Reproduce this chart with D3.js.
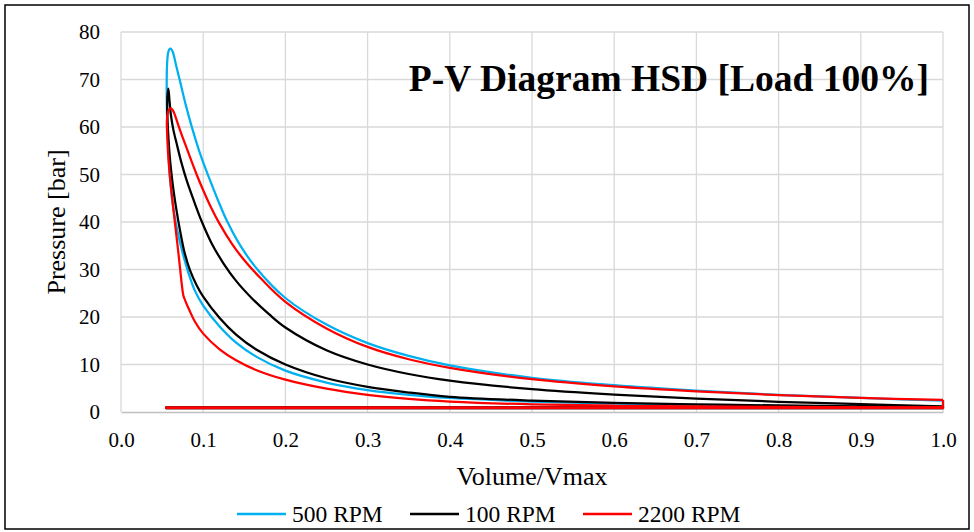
<!DOCTYPE html>
<html>
<head>
<meta charset="utf-8">
<script src="https://cdn.jsdelivr.net/npm/d3@7"></script>
<style>
  body { margin: 0; background: #fff; }
  svg text { font-family: "Liberation Serif", "Times New Roman", serif; fill: #000; }
</style>
</head>
<body>
<div id="chart"></div>
<script>
// Axis ticks
const xTicks = [0.0, 0.1, 0.2, 0.3, 0.4, 0.5, 0.6, 0.7, 0.8, 0.9, 1.0];
const yTicks = [0, 10, 20, 30, 40, 50, 60, 70, 80];

// Series: [Volume/Vmax, Pressure bar]; compression runs BDC -> peak, expansion peak -> BDC
const comp500 = [[1.0,0.95],[0.9,1.1],[0.8,1.25],[0.7,1.45],[0.6,1.75],[0.5,2.2],[0.4,2.95],[0.35,3.6],[0.3,4.6],[0.25,6.2],[0.2,8.7],[0.165,11.6],[0.14,14.6],[0.12,18.0],[0.1,22.4],[0.09,25.5],[0.082,29.3],[0.075,33.5],[0.069,37.8],[0.065,41.5],[0.062,45],[0.06,48.5],[0.0585,52],[0.0573,56],[0.0563,60.5],[0.0557,65],[0.0556,69],[0.0559,72.5],[0.057,75.3],[0.0585,76.3],[0.0605,76.5]];
const exp500 = [[0.0605,76.5],[0.063,75.8],[0.067,73],[0.072,69.5],[0.079,64.5],[0.087,59.5],[0.096,54.5],[0.106,49.8],[0.117,45],[0.129,40.2],[0.146,34.8],[0.166,30],[0.2,24.0],[0.25,18.4],[0.3,14.5],[0.35,11.8],[0.4,9.8],[0.5,7.2],[0.6,5.65],[0.7,4.5],[0.8,3.6],[0.9,2.95],[1.0,2.4]];

const comp100 = [[1.0,1.05],[0.9,1.2],[0.8,1.38],[0.7,1.6],[0.6,1.92],[0.5,2.4],[0.4,3.2],[0.35,4.1],[0.3,5.3],[0.25,7.1],[0.2,10.0],[0.165,13.1],[0.14,16.3],[0.12,19.8],[0.1,24.3],[0.092,26.7],[0.084,29.8],[0.077,33.8],[0.0715,38.5],[0.0675,42.5],[0.064,46.5],[0.0612,50.5],[0.0592,54],[0.0578,57.5],[0.0567,61],[0.0562,64],[0.0565,66.5],[0.0576,68.1]];
const exp100 = [[0.0576,68.1],[0.0588,66],[0.0605,62.8],[0.0636,59.5],[0.068,56.3],[0.0735,52.5],[0.08,48.7],[0.089,44.3],[0.098,40.2],[0.11,35.6],[0.125,31.2],[0.14,27.6],[0.16,23.8],[0.18,20.6],[0.2,17.8],[0.25,13.0],[0.3,10.0],[0.35,8.0],[0.4,6.6],[0.5,4.8],[0.6,3.65],[0.7,2.8],[0.8,2.15],[0.9,1.65],[1.0,1.2]];

const comp2200 = [[1.0,0.95],[0.9,1.0],[0.8,1.07],[0.7,1.17],[0.6,1.32],[0.5,1.6],[0.4,2.2],[0.35,2.75],[0.3,3.6],[0.25,4.9],[0.2,6.8],[0.165,8.8],[0.14,10.9],[0.12,13.2],[0.1,16.5],[0.09,19.0],[0.0835,21.3],[0.0785,23.3],[0.0758,24.6],[0.074,26.8],[0.072,30],[0.0695,34],[0.0665,38.5],[0.0635,43],[0.061,47],[0.059,50.5],[0.0573,54.5],[0.0562,58.5],[0.0558,61.2],[0.057,63],[0.059,63.8],[0.0612,63.9]];
const exp2200 = [[0.0612,63.9],[0.064,63.2],[0.067,61.8],[0.0697,60.4],[0.075,57.8],[0.0807,55.2],[0.086,52.7],[0.092,50],[0.1,46.7],[0.11,42.9],[0.12,39.6],[0.135,35.4],[0.15,31.95],[0.17,28.15],[0.2,23.2],[0.25,17.6],[0.3,13.7],[0.35,11.1],[0.4,9.3],[0.5,6.9],[0.6,5.4],[0.7,4.35],[0.8,3.55],[0.9,2.97],[1.0,2.54]];

// Gas exchange: exhaust and intake pressure, swept down to the clearance volume
const exhaustP = [0.95, 0.95, 0.95];
const intakeP = [0.8, 0.8, 0.8];
const minVolume = [0.055, 0.055, 0.055];

const names = ['500 RPM', '100 RPM', '2200 RPM'];
const colors = ['#00B0F0', '#000000', '#FF0000'];

const serif = '"Liberation Serif", "Times New Roman", serif';
const width = 974, height = 532;
const margin = { left: 121, right: 31, top: 32, bottom: 120 };

const svg = d3.select('#chart').append('svg')
    .attr('width', width)
    .attr('height', height);

svg.append('rect')
    .attr('width', width).attr('height', height)
    .attr('fill', '#fff');

// chart border
svg.append('rect')
    .attr('x', 5).attr('y', 5)
    .attr('width', 964).attr('height', 524)
    .attr('fill', 'none')
    .attr('stroke', '#000')
    .attr('stroke-width', 1.5);

const x = d3.scaleLinear().domain([0, 1]).range([margin.left, width - margin.right]);
const y = d3.scaleLinear().domain([0, 80]).range([height - margin.bottom, margin.top]);

// gridlines
const grid = svg.append('g').attr('stroke', '#d9d9d9').attr('stroke-width', 1.3);
grid.selectAll('.gy').data(yTicks.slice(1)).join('line')
    .attr('x1', x(0)).attr('x2', x(1))
    .attr('y1', d => y(d)).attr('y2', d => y(d));
grid.selectAll('.gx').data(xTicks).join('line')
    .attr('y1', y(0)).attr('y2', y(80))
    .attr('x1', d => x(d)).attr('x2', d => x(d));

// axes
const xAxis = svg.append('g')
    .attr('transform', `translate(0,${y(0)})`)
    .call(d3.axisBottom(x).tickValues(xTicks).tickFormat(d3.format('.1f')).tickSize(0).tickPadding(20));
xAxis.select('.domain').attr('stroke', '#bfbfbf').attr('stroke-width', 1.5);

const yAxis = svg.append('g')
    .attr('transform', `translate(${x(0)},0)`)
    .call(d3.axisLeft(y).tickValues(yTicks).tickSize(0).tickPadding(21));
yAxis.select('.domain').remove();

[xAxis, yAxis].forEach(a => {
    a.attr('font-family', null).attr('font-size', null);
    a.selectAll('text').style('font-family', serif).style('font-size', '21px');
});

// series
const line = d3.line()
    .x(d => x(d[0]))
    .y(d => y(d[1]))
    .curve(d3.curveCatmullRom.alpha(0.5));
const straight = d3.line().x(d => x(d[0])).y(d => y(d[1]));

const series = [
    { comp: comp500, exp: exp500 },
    { comp: comp100, exp: exp100 },
    { comp: comp2200, exp: exp2200 }
];

const plot = svg.append('g')
    .attr('fill', 'none')
    .attr('stroke-width', 2.25)
    .attr('stroke-linejoin', 'round');
series.forEach((s, i) => {
    const loop = s.comp.concat(s.exp.slice(1));
    const end = s.exp[s.exp.length - 1];
    // blowdown, exhaust stroke, intake stroke
    const gas = [end, [1, exhaustP[i]], [minVolume[i], exhaustP[i]], [minVolume[i], intakeP[i]], [1, intakeP[i]], s.comp[0]];
    plot.append('path').attr('d', straight(gas)).attr('stroke', colors[i]);
    plot.append('path').attr('d', line(loop)).attr('stroke', colors[i]);
});

// title
svg.append('text')
    .attr('x', 929).attr('y', 91)
    .attr('text-anchor', 'end')
    .style('font-family', serif)
    .attr('font-size', 37.5)
    .attr('font-weight', 'bold')
    .text('P-V Diagram HSD [Load 100%]');

// axis titles
svg.append('text')
    .attr('x', (x(0) + x(1)) / 2).attr('y', 485)
    .attr('text-anchor', 'middle')
    .style('font-family', serif)
    .attr('font-size', 26)
    .text('Volume/Vmax');

svg.append('text')
    .attr('transform', `translate(65,${(y(0) + y(80)) / 2}) rotate(-90)`)
    .attr('text-anchor', 'middle')
    .style('font-family', serif)
    .attr('font-size', 26)
    .text('Pressure [bar]');

// legend
const legendX = [237, 410, 583];
const legend = svg.append('g');
names.forEach((n, i) => {
    legend.append('line')
        .attr('x1', legendX[i]).attr('x2', legendX[i] + 49)
        .attr('y1', 514).attr('y2', 514)
        .attr('stroke', colors[i]).attr('stroke-width', 2.5);
    legend.append('text')
        .attr('x', legendX[i] + 55).attr('y', 522)
        .style('font-family', serif)
        .attr('font-size', 23.5)
        .text(n);
});
</script>
</body>
</html>
